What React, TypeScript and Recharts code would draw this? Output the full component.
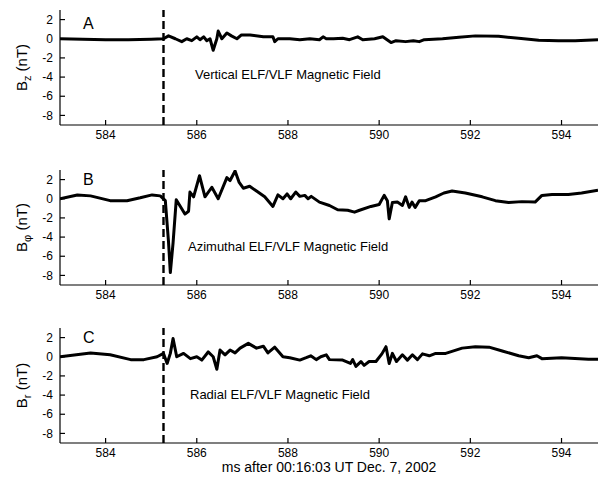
import React from "react";
import { LineChart, Line, XAxis, YAxis, ReferenceLine } from "recharts";

const FONT = "'Liberation Sans', Arial, Helvetica, sans-serif";

// time axis (ms after 00:16:03 UT) and field axis (nT)
const timeDomain: [number, number] = [583, 594.8];
const timeTicks = [584, 586, 588, 590, 592, 594];
const fieldDomain: [number, number] = [-9, 3];
const fieldTicks = [-8, -6, -4, -2, 0, 2];
const onsetTime = 585.27;

// A: vertical component B_z
const bzTime = [
  583.0, 583.5, 584.0, 584.5, 585.0, 585.27, 585.38, 585.53, 585.67, 585.78,
  585.89, 586.0, 586.07, 586.15, 586.22, 586.29, 586.36, 586.44, 586.47, 586.55,
  586.66, 586.76, 586.88, 586.98, 587.17, 587.46, 587.67, 587.71, 587.78, 588.04,
  588.26, 588.48, 588.69, 588.77, 588.84, 589.0, 589.2, 589.35, 589.53, 589.64,
  589.9, 590.08, 590.26, 590.37, 590.58, 590.75, 590.88, 590.99, 591.39, 591.75,
  592.11, 592.62, 593.06, 593.5, 593.93, 594.3, 594.8,
];
const bzValues = [
  0, -0.05, -0.1, -0.1, -0.05, 0, 0.3, 0, -0.3, 0,
  -0.2, 0.2, -0.1, 0.2, -0.2, 0, -1.2, 0, 0.8, 0,
  0.6, 0.3, 0, 0.4, 0.4, 0.2, 0.2, -0.3, 0, 0,
  -0.1, 0, -0.1, 0.2, 0, 0, 0.05, -0.1, 0.2, -0.1,
  0, 0.2, -0.4, -0.2, -0.3, -0.2, -0.3, -0.1, 0, 0.15,
  0.3, 0.25, 0.05, -0.15, -0.2, -0.2, -0.1,
];

// B: azimuthal component B_phi
const bphiTime = [
  583.0, 583.38, 583.67, 584.1, 584.47, 584.76, 585.02, 585.2, 585.31, 585.38,
  585.42, 585.48, 585.55, 585.64, 585.74, 585.82, 585.85, 585.93, 586.06, 586.18,
  586.33, 586.47, 586.66, 586.73, 586.84, 586.93, 587.02, 587.16, 587.31, 587.49,
  587.67, 587.78, 587.89, 587.98, 588.06, 588.17, 588.26, 588.37, 588.44, 588.51,
  588.69, 588.91, 589.09, 589.31, 589.46, 589.57, 589.82, 590.0, 590.11, 590.18,
  590.22, 590.29, 590.4, 590.51, 590.58, 590.66, 590.72, 590.79, 590.88, 591.02,
  591.24, 591.42, 591.6, 591.89, 592.26, 592.55, 592.84, 593.13, 593.42, 593.57,
  593.79, 594.15, 594.44, 594.8,
];
const bphiValues = [
  0, 0.4, 0.3, -0.2, -0.2, 0.1, 0.4, 0.3, -0.2, -4.5,
  -7.7, -4.6, -0.1, -0.8, -1.6, -1.3, 0.7, 0.2, 2.4, 0.2,
  1.2, 0, 2.2, 1.9, 2.9, 1.7, 1.1, 1.3, 0.8, 0.2,
  -0.8, 0.4, 0, 0.5, 0, 0.7, 0.25, 0.35, 0, 0.25,
  -0.35, -0.7, -1.15, -1.2, -1.4, -1.2, -0.8, -0.6, 0.35, -0.2,
  -2.1, -0.4, -0.35, -0.7, 0.2, -0.9, -0.35, -0.9, -0.2, -0.2,
  0.2, 0.6, 0.8, 0.6, 0.2, -0.2, -0.4, -0.3, -0.35, 0.35,
  0.45, 0.45, 0.6, 0.9,
];

// C: radial component B_r
const brTime = [
  583.0, 583.67, 584.1, 584.55, 584.84, 585.13, 585.27, 585.35, 585.42, 585.48,
  585.56, 585.71, 585.86, 586.0, 586.11, 586.25, 586.36, 586.44, 586.51, 586.62,
  586.73, 586.84, 586.95, 587.13, 587.31, 587.46, 587.56, 587.71, 587.89, 588.04,
  588.26, 588.4, 588.5, 588.62, 588.72, 588.84, 588.91, 589.2, 589.37, 589.42,
  589.49, 589.6, 589.67, 589.78, 589.93, 590.06, 590.15, 590.22, 590.29, 590.38,
  590.51, 590.62, 590.73, 590.84, 590.95, 591.1, 591.24, 591.46, 591.82, 592.11,
  592.41, 592.7, 593.06, 593.28, 593.46, 593.57, 594.0, 594.59, 594.8,
];
const brValues = [
  0, 0.4, 0.2, -0.3, -0.3, 0, 0.35, -0.7, 0.35, 1.9,
  0, 0.35, -0.2, 0, -0.35, 0.5, 0, -1.3, 0.7, 0.2,
  0.7, 0.4, 0.9, 1.4, 0.9, 1.1, 0.4, 1.0, 0, -0.1,
  -0.35, -0.1, 0.1, -0.3, 0, 0.2, -0.3, -0.35, -0.7, -0.3,
  -1.0, -0.5, -0.9, -0.5, -0.5, 0.3, 1.05, -0.7, 0.35, -0.5,
  0.2, -0.35, 0.2, -0.3, 0.3, 0.1, 0.35, 0.35, 0.9, 1.05,
  1.0, 0.6, 0.1, -0.1, 0.1, -0.2, -0.1, -0.25, -0.25,
];

const toSeries = (t: number[], v: number[]) =>
  t.map((time, i) => ({ t: time, b: v[i] }));

const TICK_LEN = 5;

// inward tick marks, matlab style: the axis hands us the label anchor,
// tickSize is 0 so the axis line sits TICK_GAP away from it
const TICK_GAP = 5;

function BottomTick(props: any) {
  const { x, y, payload } = props;
  const axisY = y - TICK_GAP;
  return (
    <g>
      <line x1={x} y1={axisY} x2={x} y2={axisY - TICK_LEN} stroke="#000" strokeWidth={1.2} />
      <text x={x} y={y} dy="0.71em" textAnchor="middle" fontFamily={FONT} fontSize={12} fill="#000">
        {payload.value}
      </text>
    </g>
  );
}

function TopTick(props: any) {
  const { x, y } = props;
  return <line x1={x} y1={y} x2={x} y2={y + TICK_LEN} stroke="#000" strokeWidth={1.2} />;
}

function LeftTick(props: any) {
  const { x, y, payload } = props;
  const axisX = x + 7;
  return (
    <g>
      <line x1={axisX} y1={y} x2={axisX + TICK_LEN} y2={y} stroke="#000" strokeWidth={1.2} />
      <text x={x} y={y} dy="0.35em" textAnchor="end" fontFamily={FONT} fontSize={12} fill="#000">
        {payload.value}
      </text>
    </g>
  );
}

// rotated "B_x (nT)" title on the left
function SideTitle(props: any) {
  const { viewBox, sub } = props;
  if (!viewBox) return null;
  const cx = viewBox.x + 23;
  const cy = viewBox.y + viewBox.height / 2;
  return (
    <text
      x={cx}
      y={cy}
      transform={`rotate(-90, ${cx}, ${cy})`}
      textAnchor="middle"
      dominantBaseline="middle"
      fontFamily={FONT}
      fontSize={15}
      fill="#000"
    >
      <tspan>B</tspan>
      <tspan dy={5} fontSize={11}>{sub}</tspan>
      <tspan dy={-5}> (nT)</tspan>
    </text>
  );
}

function BottomTitle(props: any) {
  const { viewBox, value } = props;
  if (!viewBox) return null;
  return (
    <text
      x={viewBox.x + viewBox.width / 2}
      y={viewBox.y + 29}
      textAnchor="middle"
      fontFamily={FONT}
      fontSize={14}
      fill="#000"
    >
      {value}
    </text>
  );
}

type PanelProps = {
  top: number;
  data: { t: number; b: number }[];
  letter: string;
  sub: string;
  title: string;
  letterTop: number;
  titleTop: number;
  titleLeft: number;
  xTitle?: string;
};

function Panel({ top, data, letter, sub, title, letterTop, titleTop, titleLeft, xTitle }: PanelProps) {
  const axisH = xTitle ? 45 : 25;
  const h = 10 + 115 + axisH;
  return (
    <div style={{ position: "absolute", left: 0, top, width: 598, height: h }}>
      <LineChart
        width={598}
        height={h}
        data={data}
        margin={{ top: 10, right: 0, bottom: 0, left: 0 }}
      >
        <XAxis
          xAxisId="top"
          orientation="top"
          type="number"
          dataKey="t"
          domain={timeDomain}
          ticks={timeTicks}
          interval={0}
          allowDataOverflow
          tick={<TopTick />}
          tickLine={false}
          tickSize={0}
          tickMargin={0}
          height={0}
          stroke="#000"
          strokeWidth={1.2}
        />
        <XAxis
          type="number"
          dataKey="t"
          domain={timeDomain}
          ticks={timeTicks}
          interval={0}
          allowDataOverflow
          tickLine={false}
          tickSize={0}
          tickMargin={TICK_GAP}
          height={axisH}
          tick={<BottomTick />}
          stroke="#000"
          strokeWidth={1.2}
          label={xTitle ? <BottomTitle value={xTitle} /> : undefined}
        />
        <YAxis
          type="number"
          domain={fieldDomain}
          ticks={fieldTicks}
          interval={0}
          allowDataOverflow
          width={60}
          tickLine={false}
          tickSize={0}
          tickMargin={7}
          tick={<LeftTick />}
          stroke="#000"
          strokeWidth={1.2}
          label={<SideTitle sub={sub} />}
        />
        <ReferenceLine
          x={onsetTime}
          stroke="#000"
          strokeWidth={2.4}
          strokeDasharray="8 4"
        />
        <Line
          type="linear"
          dataKey="b"
          stroke="#000"
          strokeWidth={3}
          strokeLinejoin="round"
          dot={false}
          isAnimationActive={false}
        />
      </LineChart>
      <div
        style={{
          position: "absolute",
          left: 83,
          top: letterTop,
          fontFamily: FONT,
          fontSize: 16,
          lineHeight: 1,
          color: "#000",
        }}
      >
        {letter}
      </div>
      <div
        style={{
          position: "absolute",
          left: titleLeft,
          top: titleTop,
          fontFamily: FONT,
          fontSize: 13,
          lineHeight: 1,
          color: "#000",
          whiteSpace: "nowrap",
        }}
      >
        {title}
      </div>
    </div>
  );
}

export default function App() {
  return (
    <div
      style={{
        position: "absolute",
        left: 0,
        top: 0,
        width: 598,
        height: 477,
        background: "#fff",
        overflow: "hidden",
      }}
    >
      <Panel
        top={0}
        data={toSeries(bzTime, bzValues)}
        letter="A"
        sub="z"
        title="Vertical ELF/VLF Magnetic Field"
        letterTop={16}
        titleTop={68}
        titleLeft={195}
      />
      <Panel
        top={160}
        data={toSeries(bphiTime, bphiValues)}
        letter="B"
        sub="φ"
        title="Azimuthal ELF/VLF Magnetic Field"
        letterTop={12}
        titleTop={80}
        titleLeft={188}
      />
      <Panel
        top={318}
        data={toSeries(brTime, brValues)}
        letter="C"
        sub="r"
        title="Radial ELF/VLF Magnetic Field"
        letterTop={12}
        titleTop={70}
        titleLeft={190}
        xTitle="ms after 00:16:03 UT Dec. 7, 2002"
      />
    </div>
  );
}
